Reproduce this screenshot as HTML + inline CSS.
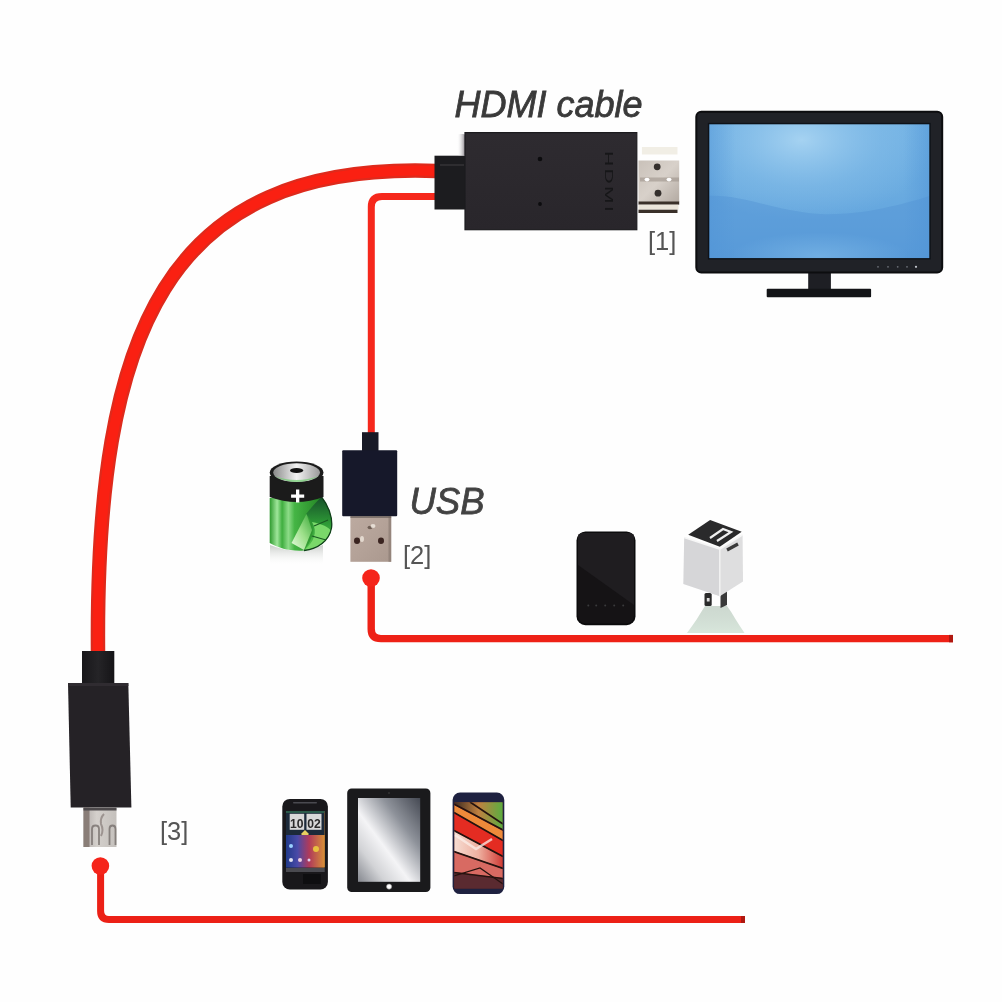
<!DOCTYPE html>
<html><head><meta charset="utf-8">
<style>
html,body{margin:0;padding:0;background:#fff;width:1002px;height:1002px;overflow:hidden}
svg{display:block;filter:blur(0.5px)}
text{font-family:"Liberation Sans",sans-serif}
</style></head><body>
<svg width="1002" height="1002" viewBox="0 0 1002 1002">
<defs>
  <linearGradient id="scr" x1="0" y1="0" x2="0" y2="1">
    <stop offset="0" stop-color="#72b2e4"/>
    <stop offset="0.5" stop-color="#6aabe0"/>
    <stop offset="1" stop-color="#5a9edb"/>
  </linearGradient>
  <radialGradient id="scrglow" cx="0.42" cy="0.12" r="0.6">
    <stop offset="0" stop-color="#a8d4f2" stop-opacity="0.95"/>
    <stop offset="0.6" stop-color="#8cc2ea" stop-opacity="0.4"/>
    <stop offset="1" stop-color="#8cc2ea" stop-opacity="0"/>
  </radialGradient>
  <radialGradient id="scrbot" cx="0.5" cy="0.95" r="0.4">
    <stop offset="0" stop-color="#7ab6e6" stop-opacity="0.7"/>
    <stop offset="1" stop-color="#7ab6e6" stop-opacity="0"/>
  </radialGradient>
  <linearGradient id="scrside" x1="0" y1="0" x2="1" y2="0">
    <stop offset="0" stop-color="#4f93d6" stop-opacity="0.45"/>
    <stop offset="0.12" stop-color="#4f93d6" stop-opacity="0"/>
    <stop offset="0.88" stop-color="#4f93d6" stop-opacity="0"/>
    <stop offset="1" stop-color="#4f93d6" stop-opacity="0.5"/>
  </linearGradient>
  <linearGradient id="tabscr" x1="1" y1="0" x2="0" y2="1">
    <stop offset="0" stop-color="#454953"/>
    <stop offset="0.3" stop-color="#8e929a"/>
    <stop offset="0.58" stop-color="#f4f4f6"/>
    <stop offset="0.78" stop-color="#d2d3d6"/>
    <stop offset="1" stop-color="#85888f"/>
  </linearGradient>
  <linearGradient id="metal" x1="0" y1="0" x2="1" y2="1">
    <stop offset="0" stop-color="#c9c1b9"/>
    <stop offset="0.5" stop-color="#d8d1ca"/>
    <stop offset="1" stop-color="#b3aaa2"/>
  </linearGradient>
  <linearGradient id="usbmetal" x1="0" y1="0" x2="1" y2="1">
    <stop offset="0" stop-color="#bcaaa0"/>
    <stop offset="0.5" stop-color="#b4a298"/>
    <stop offset="1" stop-color="#aa988e"/>
  </linearGradient>
  <linearGradient id="mumetal" x1="0" y1="0" x2="1" y2="0">
    <stop offset="0" stop-color="#b0aaa8"/>
    <stop offset="0.4" stop-color="#d4d0cc"/>
    <stop offset="1" stop-color="#c4c0bc"/>
  </linearGradient>
  <linearGradient id="batgreen" x1="0" y1="0" x2="1" y2="0">
    <stop offset="0" stop-color="#2f9a2f"/>
    <stop offset="0.12" stop-color="#9fe69a"/>
    <stop offset="0.2" stop-color="#3fae3f"/>
    <stop offset="0.3" stop-color="#8ddc88"/>
    <stop offset="0.4" stop-color="#45b545"/>
    <stop offset="0.75" stop-color="#2a8e2a"/>
    <stop offset="1" stop-color="#1a6a1a"/>
  </linearGradient>
  <linearGradient id="battop" x1="0" y1="0" x2="1" y2="0">
    <stop offset="0" stop-color="#8a8a8a"/>
    <stop offset="0.5" stop-color="#f2f2f2"/>
    <stop offset="1" stop-color="#9a9a9a"/>
  </linearGradient>
  <linearGradient id="arrowg" x1="0" y1="0" x2="1" y2="1">
    <stop offset="0" stop-color="#9fe28f"/>
    <stop offset="0.5" stop-color="#5cc24f"/>
    <stop offset="1" stop-color="#2a8a2a"/>
  </linearGradient>
  <linearGradient id="arrowg2" x1="0" y1="1" x2="1" y2="0">
    <stop offset="0" stop-color="#e8fbe0"/>
    <stop offset="0.5" stop-color="#9de08a"/>
    <stop offset="1" stop-color="#3aa83a"/>
  </linearGradient>
  <linearGradient id="sgtop" x1="0" y1="0" x2="1" y2="0">
    <stop offset="0" stop-color="#3a2a20"/>
    <stop offset="0.5" stop-color="#c08040"/>
    <stop offset="1" stop-color="#5aae40"/>
  </linearGradient>
  <linearGradient id="sgpink" x1="0" y1="0" x2="1" y2="0">
    <stop offset="0" stop-color="#f6dcd2"/>
    <stop offset="0.5" stop-color="#eeb0a0"/>
    <stop offset="1" stop-color="#d03a34"/>
  </linearGradient>
  <linearGradient id="batrefl" x1="0" y1="0" x2="0" y2="1">
    <stop offset="0" stop-color="#c8ccc8"/>
    <stop offset="1" stop-color="#ffffff" stop-opacity="0"/>
  </linearGradient>
  <linearGradient id="batright" x1="0" y1="0" x2="0" y2="1">
    <stop offset="0" stop-color="#16502a"/>
    <stop offset="0.5" stop-color="#2e9a36"/>
    <stop offset="1" stop-color="#5cc850"/>
  </linearGradient>
  <linearGradient id="relief" x1="0" y1="0" x2="1" y2="0">
    <stop offset="0" stop-color="#18171a"/>
    <stop offset="0.5" stop-color="#252427"/>
    <stop offset="1" stop-color="#151417"/>
  </linearGradient>
  <linearGradient id="bevel" x1="0" y1="0" x2="1" y2="0">
    <stop offset="0" stop-color="#fefefe" stop-opacity="0"/>
    <stop offset="1" stop-color="#6e6870"/>
  </linearGradient>
  <linearGradient id="refl" x1="0" y1="0" x2="0" y2="1">
    <stop offset="0" stop-color="#b8c8bc" stop-opacity="0.7"/>
    <stop offset="1" stop-color="#d4e4d8" stop-opacity="0.9"/>
  </linearGradient>
  <linearGradient id="htc" x1="0" y1="0" x2="1" y2="0">
    <stop offset="0" stop-color="#203a8a"/>
    <stop offset="0.3" stop-color="#4a4aa8"/>
    <stop offset="0.6" stop-color="#b03a5a"/>
    <stop offset="1" stop-color="#d89038"/>
  </linearGradient>
  <linearGradient id="bodyg" x1="0" y1="0" x2="0" y2="1">
    <stop offset="0" stop-color="#2e2b30"/>
    <stop offset="1" stop-color="#29262b"/>
  </linearGradient>
  <clipPath id="sgs"><rect x="454.4" y="802.2" width="48.2" height="86.2"/></clipPath>
  <clipPath id="htcclip"><rect x="286" y="811" width="38.7" height="56.5"/></clipPath>
  <clipPath id="pbclip"><rect x="576.5" y="531.6" width="59" height="93.6" rx="9"/></clipPath>
</defs>
<rect width="1002" height="1002" fill="#fefefe"/>

<!-- labels -->
<text x="454.5" y="116.5" font-size="36" font-style="italic" fill="#3a3a3a" stroke="#3a3a3a" stroke-width="0.8">HDMI cable</text>
<text x="409.5" y="513.5" font-size="36.5" font-style="italic" fill="#424242" stroke="#424242" stroke-width="0.8">USB</text>
<text x="648" y="249.5" font-size="25.5" fill="#555">[1]</text>
<text x="403" y="563.5" font-size="25.5" fill="#555">[2]</text>
<text x="160" y="840" font-size="25.5" fill="#555">[3]</text>

<!-- cables -->
<path d="M436,171 C165.2,161.4 95.4,333.7 98,652" fill="none" stroke="#de2a1c" stroke-width="14.5"/>
<path d="M436,171 C165.2,161.4 95.4,333.7 98,652" fill="none" stroke="#fa2012" stroke-width="10"/>
<path d="M436,196.6 H382 Q371.3,196.6 371.3,207 V440" fill="none" stroke="#f6281c" stroke-width="7"/>
<path d="M371.2,578 V629 Q371.2,638.6 381,638.6 H953" fill="none" stroke="#ee2116" stroke-width="7.4"/>
<rect x="949" y="634.9" width="4" height="7.4" fill="#b01810"/>
<circle cx="371" cy="578" r="8.8" fill="#f5241a"/>
<path d="M100.6,866 V911 Q100.6,919.5 109,919.5 H745" fill="none" stroke="#ec2016" stroke-width="7"/>
<rect x="741" y="916" width="4" height="7" fill="#b01810"/>
<circle cx="100.4" cy="866" r="8.8" fill="#f5241a"/>

<!-- HDMI connector -->
<rect x="434.5" y="155.7" width="32" height="53.8" fill="#1c1c1f"/>
<rect x="440" y="164" width="24" height="2" fill="#3a393c" opacity="0.6"/>
<rect x="457" y="134" width="9" height="22" rx="3" fill="url(#bevel)"/>
<rect x="465" y="132.6" width="171.8" height="97.1" fill="url(#bodyg)"/>
<rect x="465" y="132.6" width="171.8" height="97.1" fill="none" stroke="#1c1b1e" stroke-width="1.2"/>
<circle cx="540" cy="159" r="2.3" fill="#0c0c0e"/>
<circle cx="540" cy="204" r="1.9" fill="#0c0c0e"/>
<text transform="translate(604.6,151) rotate(90) scale(2,1)" font-size="10.5" fill="#161618" letter-spacing="1.2">HDMI</text>
<rect x="641.9" y="147" width="35.6" height="7.5" fill="#f1eee5"/>
<rect x="638.5" y="160.5" width="40.7" height="41.5" fill="url(#metal)"/>
<circle cx="657.2" cy="166.8" r="3.4" fill="#35302d"/>
<circle cx="658" cy="193.2" r="3.4" fill="#35302d"/>
<rect x="640" y="177.5" width="39" height="4" fill="#9c938b" opacity="0.6"/>
<ellipse cx="647" cy="179.6" rx="2.5" ry="1.8" fill="#fff"/>
<ellipse cx="669" cy="179.6" rx="2.5" ry="1.8" fill="#fff"/>
<rect x="638.5" y="201.5" width="40.7" height="3.2" fill="#3a3029"/>
<rect x="638.5" y="204.7" width="40" height="5" fill="#ebe5da"/>
<rect x="638.5" y="209.7" width="39" height="3.3" fill="#3a3029"/>

<!-- monitor -->
<rect x="808.2" y="270" width="22.7" height="20" fill="#1e1f24"/>
<rect x="766.7" y="288.7" width="104.4" height="8.5" rx="1" fill="#131417"/>
<rect x="696.3" y="111.7" width="245.9" height="160.9" rx="5" fill="#202227" stroke="#0c0d0f" stroke-width="2"/>
<rect x="708.6" y="123.6" width="221.4" height="135.2" fill="url(#scr)"/>
<rect x="708.6" y="123.6" width="221.4" height="135.2" fill="url(#scrglow)"/>
<path d="M708.6,196 C740,194 780,212 820,214 C860,216 900,205 930,196 V258.8 H708.6 Z" fill="#5596d6" opacity="0.5"/>
<rect x="708.6" y="200" width="221.4" height="58.8" fill="url(#scrbot)"/>
<rect x="708.6" y="123.6" width="221.4" height="135.2" fill="url(#scrside)"/>
<rect x="708.6" y="123.6" width="221.4" height="135.2" fill="none" stroke="#0e1218" stroke-width="1.4"/>
<g fill="#6a6e76"><circle cx="878" cy="266.8" r="0.9"/><circle cx="888" cy="266.8" r="0.9"/><circle cx="897.7" cy="266.8" r="0.9"/><circle cx="907" cy="266.8" r="0.9"/><circle cx="916" cy="266.8" r="1.1" fill="#c8ccd2"/></g>

<!-- USB -->
<rect x="362" y="432.2" width="16.5" height="19" fill="#181a26"/>
<rect x="342.2" y="450.3" width="55" height="65.9" rx="1" fill="#16182a"/>
<rect x="350.4" y="516.2" width="40.8" height="45.6" fill="url(#usbmetal)"/>
<rect x="388.5" y="516.2" width="2.7" height="45.6" fill="#8a7a72" opacity="0.7"/>
<ellipse cx="357" cy="540.7" rx="3" ry="3.2" fill="#3a2420"/>
<ellipse cx="381" cy="540.7" rx="3" ry="3.2" fill="#3a2420"/>
<ellipse cx="362" cy="539" rx="2" ry="3" fill="#efe6dc" opacity="0.8"/>
<ellipse cx="370" cy="527.5" rx="2.5" ry="1.8" fill="#6e5e54"/>
<ellipse cx="373" cy="526" rx="2.5" ry="2" fill="#f2ebe2" opacity="0.8"/>
<rect x="350.4" y="516.2" width="40.8" height="1.5" fill="#6c625c"/>

<!-- micro USB -->
<rect x="82" y="651" width="32.3" height="33" fill="url(#relief)"/>
<polygon points="68,683 128.3,683 131.4,807.5 70.7,807.5" fill="#252226"/>
<polygon points="68,683 128.3,683 128.4,686 68.1,686" fill="#302c31"/>
<rect x="83.5" y="807.5" width="33" height="39.5" fill="url(#mumetal)"/>
<rect x="83.5" y="807.5" width="6" height="39.5" fill="#8a7e78"/>
<rect x="83.5" y="807.5" width="33" height="3" fill="#4e4a4c"/>
<path d="M92,845 V829 Q92,825.5 95.5,825.5 Q99,825.5 99,829 V845" fill="none" stroke="#6a6260" stroke-width="1.8" opacity="0.7"/>
<path d="M109.5,845 V829 Q109.5,825.5 112.5,825.5 Q115.5,825.5 115.5,829 V845" fill="none" stroke="#6a6260" stroke-width="1.8" opacity="0.7"/>
<path d="M104,814 Q100,818 101,824 Q104,830 101,836" fill="none" stroke="#7a6e6a" stroke-width="2" opacity="0.6"/>

<!-- battery -->
<path d="M270,545 Q297,556 323,545 V566 H270 Z" fill="url(#batrefl)"/>
<path d="M269.7,498 L321.5,497 C328,505 333,517 331.5,528 C329,541 318,549 304,550.5 C290,551.5 278,548 269.7,543 Z" fill="url(#batgreen)"/>
<path d="M306,514 C312,507 317,501 321.5,497 C328,505 333,517 331.5,528 C329,541 318,549 304,550.5 C312,540 318,528 306,514 Z" fill="url(#batright)"/>
<path d="M312,522 C322,524 329,527 331,531 C329,541 318,549 304,550.5 C314,542 318,532 312,522 Z" fill="#7ad86a"/>
<path d="M314,526 L328,520 M312,536 L326,540" stroke="#1a5a22" stroke-width="1.2"/>
<path d="M291.5,543 L306.5,514 L312,530 L304,550 Z" fill="url(#arrowg2)"/>
<path d="M321.5,497 C328,505 333,517 331.5,528 C329,541 318,549 304,550.5" fill="none" stroke="#10401a" stroke-width="1.3"/>
<path d="M269.7,476 V497 Q296.6,507 323.5,497 V476 Z" fill="#1b1b1b"/>
<ellipse cx="296.6" cy="472.5" rx="26.9" ry="11" fill="#1b1b1b"/>
<ellipse cx="296.6" cy="472.6" rx="23.4" ry="9.4" fill="url(#battop)"/>
<path d="M274,476 Q296.6,488 319,476 Q296.6,484 274,476 Z" fill="#6fcf6f" opacity="0.7"/>
<ellipse cx="296.6" cy="470.5" rx="6.6" ry="2.6" fill="#111"/>
<path d="M296,489.5 h3.3 v4.9 h4.9 v3.3 h-4.9 v4.9 h-3.3 v-4.9 h-4.9 v-3.3 h4.9 z" fill="#fff"/>

<!-- power bank -->
<rect x="576.5" y="531.6" width="59" height="93.6" rx="9" fill="#0b0b0c"/>
<rect x="578" y="533" width="56" height="90.6" rx="8" fill="#151315"/>
<path d="M578,565 L634,605 V533 H578 Z" clip-path="url(#pbclip)" fill="#1f1d20"/>
<g fill="#3a3a3c"><circle cx="588.3" cy="605.4" r="1"/><circle cx="596.2" cy="605.4" r="1"/><circle cx="605.2" cy="605.4" r="1"/><circle cx="614.2" cy="605.4" r="1"/><circle cx="623.2" cy="605.4" r="1"/></g>

<!-- charger -->
<path d="M687,633 C694,624 700,614 705,606 H727 C733,614 738,624 744.5,633 Z" fill="url(#refl)"/>
<rect x="704.5" y="593" width="7.2" height="13" rx="1.5" fill="#2a2a2a"/>
<rect x="706.8" y="598" width="2.8" height="3.5" fill="#dcdcdc"/>
<path d="M720.5,593 L727,591 V605 L720.5,608 Z" fill="#3a3a3a"/>
<polygon points="684.2,537.5 719.8,548.9 719.8,596.3 683.3,584" fill="#d6d6d8"/>
<polygon points="719.8,548.9 742.6,534.8 743,581.4 719.8,596.3" fill="#dededf"/>
<polygon points="688.2,534.8 710.1,519.9 741.7,531.8 719.8,546.7" fill="#2a2a2b"/>
<polyline points="684.2,537.5 719.8,548.9 742.6,534.8" fill="none" stroke="#f6f6f6" stroke-width="1.8"/>
<line x1="719.8" y1="548.9" x2="719.8" y2="596.3" stroke="#f2f2f2" stroke-width="1.5"/>
<path d="M710,538 L723,529 L731,532 L717,541" fill="none" stroke="#efefef" stroke-width="2.2"/>
<path d="M727,550 L738,544" stroke="#3a3a3a" stroke-width="3.2"/>

<!-- HTC phone -->
<rect x="282.3" y="798.9" width="45.6" height="90.6" rx="7.5" fill="#19181b"/>
<rect x="293" y="802" width="24" height="1.4" rx="0.7" fill="#4a4a50"/>
<rect x="286" y="811" width="38.7" height="56.5" fill="url(#htc)"/>
<g clip-path="url(#htcclip)">
  <rect x="286" y="811" width="38.7" height="24" fill="#1c2a3a"/>
  <rect x="286" y="811" width="38.7" height="2" fill="#2a5a4a"/>
  <rect x="289.7" y="813.8" width="14.5" height="16" fill="#d8d8d8"/>
  <rect x="306.5" y="813.8" width="15" height="16" fill="#d8d8d8"/>
  <text x="290" y="828" font-size="12.5" font-weight="bold" fill="#2a2a2a" textLength="13.5" lengthAdjust="spacingAndGlyphs">10</text>
  <text x="307.2" y="828" font-size="12.5" font-weight="bold" fill="#2a2a2a" textLength="13.5" lengthAdjust="spacingAndGlyphs">02</text>
  <path d="M301,834 L305,830 L309,834 L305,838 Z" fill="#e8d060"/>
  <rect x="286" y="835" width="38.7" height="32.5" fill="url(#htc)"/>
  <circle cx="291" cy="846" r="2" fill="#9ad0ff"/>
  <circle cx="316" cy="849" r="3" fill="#e8c040"/>
  <circle cx="291" cy="860" r="2" fill="#e0e0f0"/>
  <circle cx="300" cy="860" r="2" fill="#f0d0e0"/>
  <circle cx="309" cy="860" r="1.5" fill="#e0d0f0"/>
</g>
<rect x="286" y="868" width="38.7" height="4" fill="#4a4a50"/>
<rect x="303" y="874" width="18" height="10" fill="#0e0e10"/>

<!-- tablet -->
<rect x="347.2" y="788.4" width="83.2" height="103.6" rx="4.5" fill="#1a1a1c"/>
<rect x="358" y="798" width="62.2" height="83.8" fill="url(#tabscr)"/>
<circle cx="389.1" cy="886.6" r="2.6" fill="#fff" stroke="#888" stroke-width="0.6"/>
<circle cx="389" cy="793" r="0.8" fill="#444"/>

<!-- Samsung -->
<rect x="452.6" y="792.5" width="51.7" height="101.6" rx="7.5" fill="#1e2140"/>
<rect x="454.4" y="802.2" width="48.2" height="86.2" fill="#3a1a1a"/>
<g clip-path="url(#sgs)">
  <rect x="454.4" y="802.2" width="48.2" height="86.2" fill="#8a3a3a"/>
  <polygon points="454,802 503,802 503,830 454,803" fill="url(#sgtop)"/>
  <polygon points="454,805 503,831 503,840 454,812" fill="#ee8a3a"/>
  <polygon points="454,813 503,841 503,856 454,830" fill="#e42c22"/>
  <polygon points="454,831 503,857 503,868 454,851" fill="url(#sgpink)"/>
  <polygon points="454,852 503,869 503,878 454,872" fill="#d86a62"/>
  <polygon points="454,873 503,879 503,889 454,889" fill="#5a2a30"/>
  <path d="M454,804 L503,830 M454,812.5 L503,840.5 M454,830.5 L503,856.5 M454,851.5 L503,868.5 M454,872.5 L503,878.5 M470,802 L503,824" stroke="#24120e" stroke-width="1.7" fill="none"/>
  <path d="M454,876 L480,868 L503,884" stroke="#24120e" stroke-width="1.2" fill="none"/>
  <path d="M455,835 L476,849 L492,839" stroke="#fbeee8" stroke-width="2.6" fill="none" opacity="0.75"/>
</g>
</svg>
</body></html>
